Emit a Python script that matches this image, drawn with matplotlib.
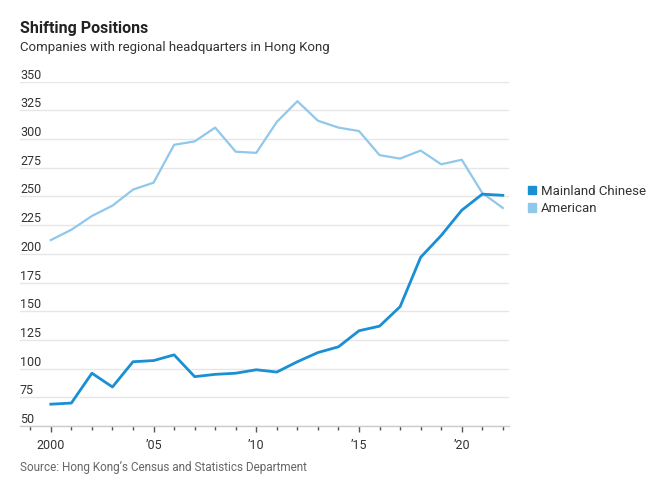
import matplotlib.pyplot as plt
from matplotlib.ticker import MultipleLocator
from matplotlib.patches import Patch
import matplotlib.transforms as mtransforms

plt.rcParams['font.family'] = ['Roboto', 'DejaVu Sans']

years = list(range(2000, 2023))
mainland = [69, 70, 96, 84, 106, 107, 112, 93, 95, 96, 99, 97, 106, 114, 119,
            133, 137, 154, 197, 216, 238, 252, 251]
american = [212, 221, 233, 242, 256, 262, 295, 298, 310, 289, 288, 315, 333, 316, 310,
            307, 286, 283, 290, 278, 282, 253, 240]
yticks = [50, 75, 100, 125, 150, 175, 200, 225, 250, 275, 300, 325, 350]
xticks = [2000, 2005, 2010, 2015, 2020]
xlabels = ['2000', '\u201905', '\u201910', '\u201915', '\u201920']

dark = '#1a8fd3'
light = '#90c8eb'
grey = '#333333'

fig = plt.figure(figsize=(6.6, 4.86), dpi=100)
ax = fig.add_axes([20 / 660, 1 - 426 / 486, 489 / 660, (426 - 81.7) / 486])

ax.plot(years, american, color=light, lw=1.6, zorder=3)
ax.plot(years, mainland, color=dark, lw=2.0, zorder=4)

ax.set_xlim(1998.5, 2022.3)
ax.set_ylim(50, 350)

for s in ['top', 'right', 'left']:
    ax.spines[s].set_visible(False)
ax.spines['bottom'].set_color('#cccccc')
ax.spines['bottom'].set_linewidth(1)

# y labels sit on top of the gridlines, left aligned
ax.set_yticks(yticks)
ax.yaxis.grid(True, color='#e6e6e6', lw=1)
ax.tick_params(axis='y', left=False, labelleft=False)
trans = mtransforms.blended_transform_factory(ax.transAxes, ax.transData)
for v in yticks:
    ax.text(0, v, str(v), transform=trans, ha='left', va='bottom', fontsize=9,
            color=grey)
ax.set_axisbelow(True)

ax.set_xticks(xticks)
ax.set_xticklabels(xlabels, fontsize=9, color=grey)
ax.xaxis.set_minor_locator(MultipleLocator(1))
ax.tick_params(axis='x', which='major', length=4, width=1, color='#555555', pad=5)
ax.tick_params(axis='x', which='minor', length=3, width=1, color='#555555')

fig.text(20 / 660, 1 - 28 / 486, 'Shifting Positions', fontsize=11.5, weight='bold',
         color='#222222', va='center', ha='left')
fig.text(20 / 660, 1 - 47 / 486, 'Companies with regional headquarters in Hong Kong',
         fontsize=9.5, color=grey, va='center', ha='left')
fig.text(20 / 660, 1 - 467 / 486, 'Source: Hong Kong\u2019s Census and Statistics Department',
         fontsize=8.5, color='#666666', va='center', ha='left')

leg_handles = [Patch(color=dark), Patch(color=light)]
fig.legend(leg_handles, ['Mainland Chinese', 'American'], loc='center left',
           bbox_to_anchor=(528 / 660, 1 - 200 / 486), frameon=False, fontsize=9.5,
           handlelength=0.6, handleheight=0.6, handletextpad=0.4, labelspacing=0.35,
           borderpad=0, borderaxespad=0, labelcolor=grey)

fig.savefig('out.png', dpi=100)
